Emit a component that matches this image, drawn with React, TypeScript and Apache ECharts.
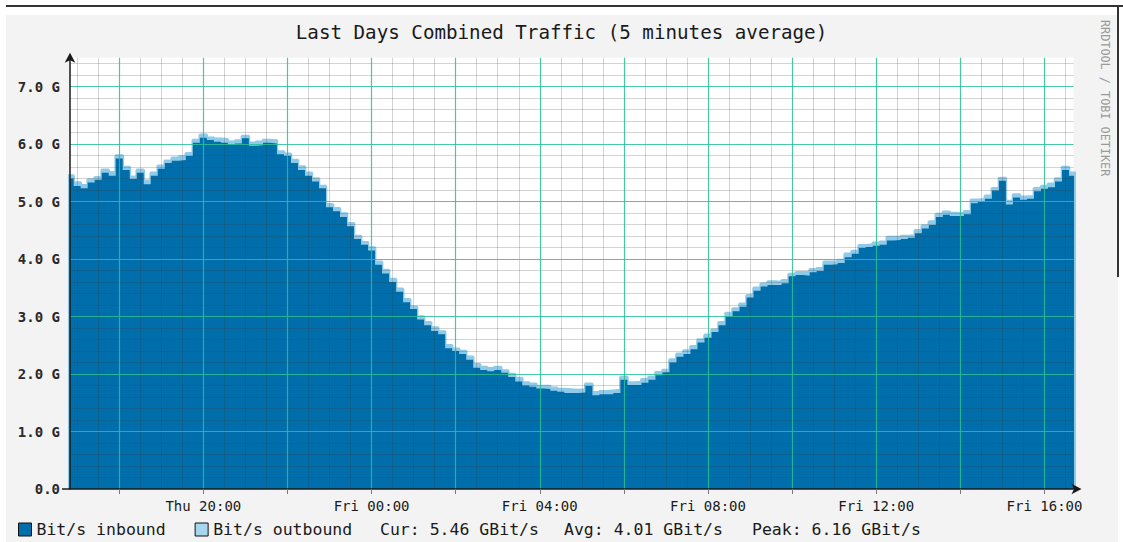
import React, { useEffect, useRef } from "react";
import * as echarts from "echarts";

const chartTitle = "Last Days Combined Traffic (5 minutes average)";
const sideCredit = "RRDTOOL / TOBI OETIKER";

// sampling: Thu 16:50 onward, every 10 minutes (hours counted from Thu 00:00)
const startHour = 16 + 50 / 60;
const stepMinutes = 10;

// GBit/s
const inbound = [
  5.40, 5.27, 5.23, 5.33, 5.38, 5.50, 5.45, 5.75, 5.55, 5.39, 5.50, 5.30,
  5.45, 5.57, 5.67, 5.71, 5.72, 5.79, 6.02, 6.11, 6.07, 6.04, 6.02, 5.99,
  6.01, 6.10, 5.97, 5.98, 6.02, 6.01, 5.82, 5.79, 5.67, 5.55, 5.45, 5.35,
  5.23, 4.90, 4.83, 4.73, 4.57, 4.35, 4.25, 4.15, 3.90, 3.75, 3.60, 3.43,
  3.25, 3.13, 2.95, 2.85, 2.75, 2.69, 2.45, 2.40, 2.35, 2.25, 2.11, 2.07,
  2.05, 2.07, 2.02, 1.95, 1.87, 1.80, 1.78, 1.75, 1.74, 1.71, 1.69, 1.67,
  1.67, 1.68, 1.79, 1.63, 1.65, 1.65, 1.67, 1.90, 1.81, 1.81, 1.85, 1.90,
  1.98, 2.03, 2.20, 2.30, 2.35, 2.43, 2.55, 2.63, 2.73, 2.85, 3.00, 3.09,
  3.17, 3.33, 3.45, 3.52, 3.55, 3.55, 3.58, 3.70, 3.72, 3.71, 3.77, 3.79,
  3.90, 3.91, 3.93, 4.03, 4.09, 4.19, 4.21, 4.23, 4.25, 4.32, 4.33, 4.35,
  4.37, 4.45, 4.53, 4.59, 4.73, 4.77, 4.75, 4.75, 4.78, 4.97, 4.99, 5.05,
  5.19, 5.36, 4.95, 5.07, 5.03, 5.05, 5.18, 5.22, 5.25, 5.35, 5.55, 5.45,
];

const outbound = [
  0.05, 0.06, 0.05, 0.05, 0.04, 0.05, 0.06, 0.05, 0.05, 0.04, 0.05, 0.06,
  0.05, 0.05, 0.04, 0.05, 0.06, 0.05, 0.05, 0.05, 0.04, 0.05, 0.06, 0.05,
  0.05, 0.04, 0.05, 0.06, 0.05, 0.05, 0.05, 0.04, 0.05, 0.06, 0.05, 0.05,
  0.04, 0.05, 0.05, 0.06, 0.05, 0.05, 0.04, 0.05, 0.05, 0.06, 0.05, 0.05,
  0.05, 0.04, 0.05, 0.05, 0.06, 0.05, 0.05, 0.04, 0.05, 0.05, 0.06, 0.05,
  0.05, 0.05, 0.04, 0.05, 0.06, 0.05, 0.05, 0.04, 0.05, 0.05, 0.05, 0.06,
  0.05, 0.05, 0.04, 0.05, 0.05, 0.06, 0.05, 0.05, 0.04, 0.05, 0.06, 0.05,
  0.05, 0.04, 0.05, 0.05, 0.06, 0.05, 0.05, 0.05, 0.04, 0.05, 0.06, 0.05,
  0.05, 0.04, 0.05, 0.05, 0.06, 0.05, 0.05, 0.04, 0.05, 0.06, 0.05, 0.05,
  0.05, 0.04, 0.05, 0.06, 0.05, 0.05, 0.04, 0.05, 0.05, 0.06, 0.05, 0.05,
  0.04, 0.05, 0.05, 0.06, 0.05, 0.05, 0.05, 0.04, 0.05, 0.06, 0.05, 0.05,
  0.04, 0.05, 0.06, 0.05, 0.05, 0.04, 0.05, 0.05, 0.06, 0.05, 0.05, 0.05,
];

const yLabelValues = [0, 1, 2, 3, 4, 5, 6, 7];
const yMajorValues = [1, 2, 3, 4, 5, 6, 7];
const xLabelHours = [20, 24, 28, 32, 36, 40];
const xMajorHours = [18, 20, 22, 24, 26, 28, 30, 32, 34, 36, 38, 40];

const statCur = 5.46;
const statAvg = 4.01;
const statPeak = 6.16;

const seriesNames = ["Bit/s inbound", "Bit/s outbound"];

const MONO = "'DejaVu Sans Mono', 'Liberation Mono', monospace";
const IN_COLOR = "#006eaa";
const OUT_COLOR = "#8fcbe9";
const MAJOR_GRID = "rgba(40,192,150,0.85)";
const MINOR_GRID = "rgba(60,60,60,0.22)";

function hourLabel(h: number): string {
  const day = h < 24 ? "Thu" : "Fri";
  const hh = Math.round(h % 24);
  return `${day} ${hh < 10 ? "0" + hh : hh}:00`;
}

// each sample is held flat over its 10-minute slot (RRD-like staircase)
function toSteps(values: number[]): number[][] {
  const half = stepMinutes / 2 / 60;
  const pts: number[][] = [];
  values.forEach((v, i) => {
    const t = startHour + (i * stepMinutes) / 60;
    pts.push([t - half, v]);
    pts.push([t + half, v]);
  });
  return pts;
}

function gridSeries(name: string, items: object[], color: string, width: number, z: number) {
  return {
    name,
    type: "line",
    data: [],
    silent: true,
    z,
    markLine: {
      silent: true,
      symbol: ["none", "none"],
      label: { show: false },
      emphasis: { disabled: true },
      lineStyle: { color, width, type: "solid" },
      data: items,
    },
  };
}

export default function App() {
  const ref = useRef<HTMLDivElement>(null);

  useEffect(() => {
    if (!ref.current) return;
    const chart = echarts.init(ref.current, undefined, { renderer: "svg" });

    const combined = inbound.map((v, i) => v + outbound[i]);
    const inData = toSteps(inbound);
    const combinedData = toSteps(combined);

    const minorX: number[] = [];
    for (let k = 34; k <= 81; k++) {
      const h = k / 2;
      if (!xMajorHours.includes(h)) minorX.push(h);
    }
    const minorY: number[] = [];
    for (let k = 1; k <= 37; k++) {
      if (k % 5 !== 0) minorY.push(k / 5);
    }

    chart.setOption({
      animation: false,
      backgroundColor: "transparent",
      title: {
        text: chartTitle,
        left: "center",
        top: 18,
        textStyle: {
          fontFamily: MONO,
          fontSize: 19.2,
          fontWeight: "normal",
          color: "#1a1a1a",
        },
      },
      legend: {
        left: 18,
        top: 521,
        padding: 0,
        itemWidth: 13,
        itemHeight: 13,
        itemGap: 29,
        icon: "rect",
        textStyle: { fontFamily: MONO, fontSize: 16.5, color: "#1a1a1a" },
        data: [
          {
            name: seriesNames[0],
            itemStyle: { color: IN_COLOR, borderColor: "#111", borderWidth: 1 },
          },
          {
            name: seriesNames[1],
            itemStyle: { color: "#a9d6ef", borderColor: "#111", borderWidth: 1 },
          },
        ],
      },
      grid: {
        show: true,
        backgroundColor: "#ffffff",
        borderWidth: 0,
        left: 70,
        top: 57.75,
        width: 1003.5,
        height: 431.25,
      },
      xAxis: {
        type: "value",
        min: 16.83,
        max: 40.69,
        z: 20,
        axisLine: {
          show: true,
          onZero: false,
          symbol: ["none", "arrow"],
          symbolSize: [8, 10],
          symbolOffset: [0, 8],
          lineStyle: { color: "#1a1a1a", width: 1.5 },
        },
        axisTick: {
          show: true,
          customValues: xMajorHours,
          length: 5,
          lineStyle: { color: "#777" },
        },
        axisLabel: {
          customValues: xLabelHours,
          formatter: (v: number) => hourLabel(v),
          margin: 10,
          fontFamily: MONO,
          fontSize: 14,
          color: "#1a1a1a",
        },
        splitLine: { show: false },
      },
      yAxis: {
        type: "value",
        min: 0,
        max: 7.5,
        z: 20,
        axisLine: {
          show: true,
          symbol: ["none", "arrow"],
          symbolSize: [8, 10],
          symbolOffset: [0, 5],
          lineStyle: { color: "#1a1a1a", width: 1.5 },
        },
        axisTick: {
          show: true,
          customValues: [0],
          length: 8,
          lineStyle: { color: "#1a1a1a", width: 1.5 },
        },
        axisLabel: {
          customValues: yLabelValues,
          formatter: (v: number) => (v === 0 ? "0.0" : `${v.toFixed(1)} G`),
          margin: 10,
          fontFamily: MONO,
          fontSize: 14,
          fontWeight: "bold",
          color: "#2a2a2a",
        },
        splitLine: { show: false },
      },
      series: [
        {
          name: seriesNames[1],
          type: "line",
          data: combinedData,
          showSymbol: false,
          lineStyle: { width: 2.6, color: OUT_COLOR },
          itemStyle: { color: OUT_COLOR },
          areaStyle: { color: OUT_COLOR, opacity: 1 },
          z: 2,
        },
        {
          name: seriesNames[0],
          type: "line",
          data: inData,
          showSymbol: false,
          lineStyle: { width: 0, color: IN_COLOR },
          itemStyle: { color: IN_COLOR },
          areaStyle: { color: IN_COLOR, opacity: 1 },
          z: 3,
        },
        gridSeries("minor grid x", minorX.map((h) => ({ xAxis: h })), MINOR_GRID, 1, 5),
        gridSeries("minor grid y", minorY.map((v) => ({ yAxis: v })), MINOR_GRID, 1, 5),
        gridSeries("major grid x", xMajorHours.map((h) => ({ xAxis: h })), MAJOR_GRID, 1.2, 6),
        gridSeries("major grid y", yMajorValues.map((v) => ({ yAxis: v })), MAJOR_GRID, 1.2, 7),
      ],
      graphic: [
        {
          type: "text",
          x: 1105,
          y: 20,
          rotation: -Math.PI / 2,
          style: {
            text: sideCredit,
            fontFamily: MONO,
            fontSize: 11.8,
            fill: "#9a9a9a",
            textAlign: "left",
            textVerticalAlign: "middle",
          },
        },
        {
          type: "text",
          x: 380,
          y: 529,
          style: {
            text: `Cur: ${statCur.toFixed(2)} GBit/s`,
            fontFamily: MONO,
            fontSize: 16.5,
            fill: "#1a1a1a",
            textVerticalAlign: "middle",
          },
        },
        {
          type: "text",
          x: 564,
          y: 529,
          style: {
            text: `Avg: ${statAvg.toFixed(2)} GBit/s`,
            fontFamily: MONO,
            fontSize: 16.5,
            fill: "#1a1a1a",
            textVerticalAlign: "middle",
          },
        },
        {
          type: "text",
          x: 752,
          y: 529,
          style: {
            text: `Peak: ${statPeak.toFixed(2)} GBit/s`,
            fontFamily: MONO,
            fontSize: 16.5,
            fill: "#1a1a1a",
            textVerticalAlign: "middle",
          },
        },
      ],
    });

    return () => chart.dispose();
  }, []);

  return (
    <div
      style={{
        position: "fixed",
        left: 0,
        top: 0,
        width: 1123,
        height: 542,
        background: "#ffffff",
        overflow: "hidden",
      }}
    >
      <div
        style={{
          position: "absolute",
          left: 6,
          top: 15,
          width: 1112,
          height: 527,
          background: "#f3f3f3",
        }}
      />
      <div
        style={{
          position: "absolute",
          left: 6,
          top: 5,
          width: 1117,
          height: 2,
          background: "#333",
        }}
      />
      <div
        style={{
          position: "absolute",
          left: 1117,
          top: 5,
          width: 2,
          height: 272,
          background: "#333",
        }}
      />
      <div
        ref={ref}
        style={{ position: "absolute", left: 0, top: 0, width: 1123, height: 542 }}
      />
    </div>
  );
}
